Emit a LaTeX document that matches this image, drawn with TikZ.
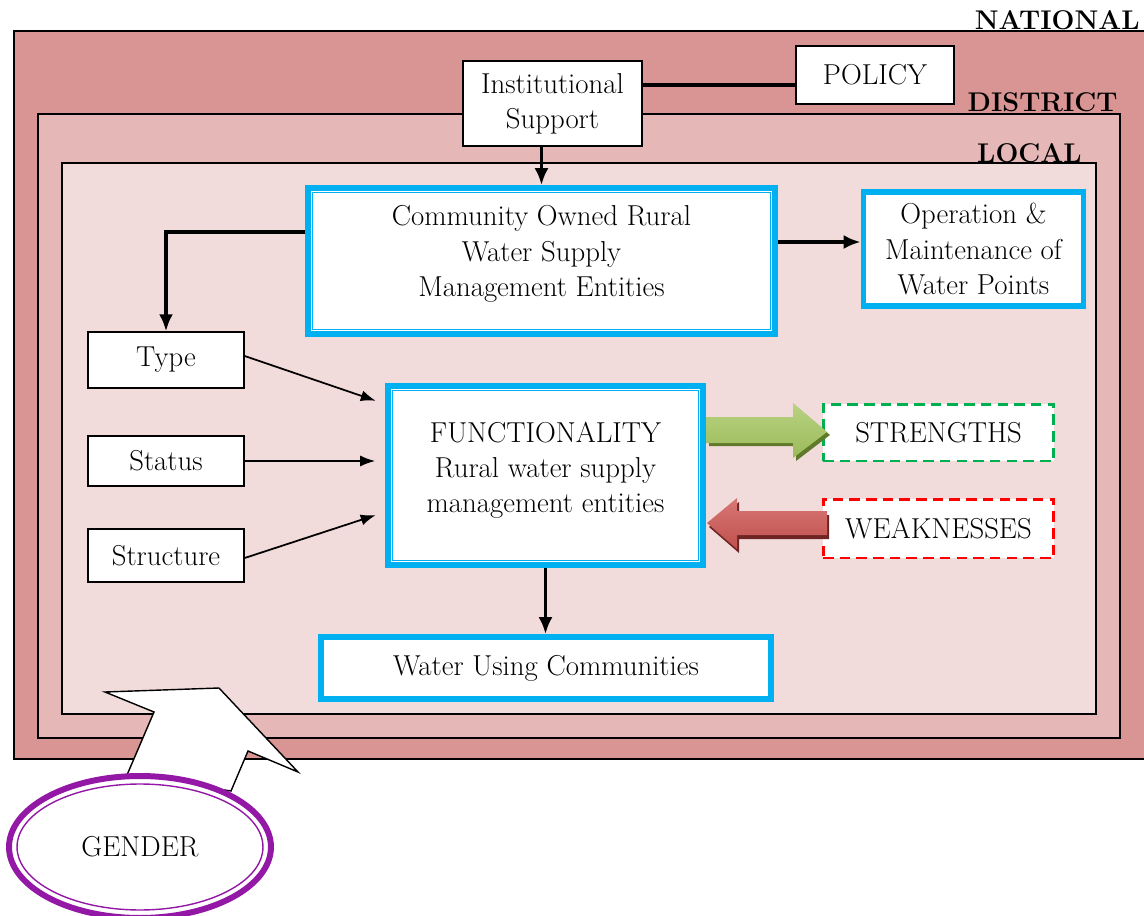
\documentclass[tikz,border=0pt]{standalone}
\usetikzlibrary{shapes.geometric,arrows.meta}

\definecolor{natred}{RGB}{217,149,148}
\definecolor{disred}{RGB}{229,184,183}
\definecolor{locred}{RGB}{242,220,219}
\definecolor{boxcyan}{RGB}{0,176,240}
\definecolor{strgreen}{RGB}{0,176,80}
\definecolor{gendpurple}{RGB}{148,24,166}
\definecolor{arrgreen}{RGB}{155,187,89}
\definecolor{arrgreenlt}{RGB}{185,210,130}
\definecolor{arrgreendk}{RGB}{94,122,42}
\definecolor{arrred}{RGB}{192,80,77}
\definecolor{arrredlt}{RGB}{215,120,117}
\definecolor{arrreddk}{RGB}{110,36,34}

\begin{document}
\begin{tikzpicture}[x=0.02cm,y=-0.02cm,
    txt/.style={font=\fontsize{16.4}{20}\selectfont, align=center},
    plainbox/.style={txt, draw=black, line width=0.8pt, fill=white, inner sep=0pt},
    bluebox/.style={txt, draw=boxcyan, line width=3.2pt, fill=white, inner sep=0pt},
    dashbox/.style={txt, dash pattern=on 6pt off 3.5pt, line width=1.7pt, fill=white, inner sep=0pt},
    level/.style={font=\fontsize{15.4}{18}\selectfont\bfseries, anchor=base east, inner sep=0pt},
    conn/.style={line width=2.2pt, -{Latex[length=0.34cm,width=0.28cm]}},
    feed/.style={line width=1pt, -{Latex[length=0.3cm,width=0.22cm]}, shorten >=0.2cm},
    inner/.style={boxcyan, line width=0.8pt}]
    \useasboundingbox (0,0) rectangle (1144,916);

    % niveles
    \fill[natred] (14,31) rectangle (1144,759);
    \draw[line width=0.8pt] (1144,31) -- (14,31) -- (14,759) -- (1144,759);
    \draw[line width=0.8pt, fill=disred] (38,114) rectangle (1120,738);
    \draw[line width=0.8pt, fill=locred] (62,163) rectangle (1096,714);
    \node[level] (nat) at (1140,30) {NATIONAL};
    \node[level] (dist) at (1118,112) {DISTRICT};
    \node[level] (loc) at (1082,162) {LOCAL};

    % flecha de genero
    \draw[line width=0.8pt, fill=white, line join=miter]
        (127,775) -- (154,712) -- (105,692) -- (219,688) -- (298,772) -- (248,751) -- (231,791) -- cycle;

    % cajas
    \node[plainbox, minimum width=3.58cm, minimum height=1.7cm] (inst) at (552.5,103.5) {Institutional\\Support};
    \node[plainbox, minimum width=3.16cm, minimum height=1.16cm] (pol) at (875,75) {POLICY};
    \node[bluebox, text depth=0.4cm, minimum width=9.34cm, minimum height=2.92cm] (comm) at (541.5,261) {Community Owned Rural\\Water Supply\\Management Entities};
    \node[bluebox, minimum width=4.4cm, minimum height=2.28cm] (op) at (973.5,249) {Operation \&\\Maintenance of\\Water Points};
    \node[plainbox, minimum width=3.12cm, minimum height=1.12cm] (type) at (166,360) {Type};
    \node[plainbox, minimum width=3.12cm, minimum height=1cm] (stat) at (166,461) {Status};
    \node[plainbox, minimum width=3.12cm, minimum height=1.06cm] (struc) at (166,555.5) {Structure};
    \node[bluebox, text depth=0.32cm, minimum width=6.3cm, minimum height=3.58cm] (func) at (545.5,475.5) {FUNCTIONALITY\\Rural water supply\\management entities};
    \node[bluebox, minimum width=9cm, minimum height=1.24cm] (wuc) at (546,668) {Water Using Communities};
    \node[dashbox, draw=strgreen, minimum width=4.62cm, minimum height=1.14cm] (str) at (938.5,432.5) {STRENGTHS};
    \node[dashbox, draw=red, minimum width=4.62cm, minimum height=1.18cm] (weak) at (938.5,528.5) {WEAKNESSES};

    % bordes dobles
    \draw[inner] ([xshift=0.15cm,yshift=-0.15cm]comm.north west) rectangle ([xshift=-0.15cm,yshift=0.15cm]comm.south east);
    \draw[inner] ([xshift=0.15cm,yshift=-0.15cm]func.north west) rectangle ([xshift=-0.15cm,yshift=0.15cm]func.south east);

    % conectores
    \coordinate (ip) at ([yshift=0.37cm]inst.east);
    \draw[line width=2.8pt] (ip) -- (ip -| pol.west);
    \draw[conn] (inst.south -| comm.north) -- (comm.north);
    \coordinate (ce) at ([yshift=0.38cm]comm.east);
    \draw[conn] (ce) -- (ce -| op.west);
    \coordinate (cw) at ([yshift=0.58cm]comm.west);
    \draw[conn] (cw) -| (type.north);
    \draw[feed] ([yshift=0.08cm]type.east) -- ([yshift=1.43cm]func.west);
    \draw[feed] (stat.east) -- (stat.east -| func.west);
    \draw[feed] ([yshift=-0.05cm]struc.east) -- ([yshift=-0.73cm]func.west);
    \draw[conn] (func.south) -- (func.south |- wuc.north);

    % flechas de bloque
    \fill[arrgreendk] (709,420) -- (796,420) -- (796,406) -- (830,435) -- (796,461) -- (796,446) -- (709,446) -- cycle;
    \shade[top color=arrgreenlt, bottom color=arrgreen]
        (706,417) -- (793,417) -- (793,403) -- (827,432) -- (793,458) -- (793,443) -- (706,443) -- cycle;
    \fill[arrreddk] (829,515) -- (739,515) -- (739,502) -- (709,527) -- (739,553) -- (739,539) -- (829,539) -- cycle;
    \shade[top color=arrredlt, bottom color=arrred]
        (827,511) -- (737,511) -- (737,498) -- (707,523) -- (737,549) -- (737,535) -- (827,535) -- cycle;

    % genero
    \node[txt, draw=gendpurple, line width=3.4pt, fill=white, ellipse, minimum width=5.24cm, minimum height=2.84cm] (gen) at (140,847) {GENDER};
    \draw[gendpurple, line width=0.8pt] (gen.center) ellipse (2.46cm and 1.26cm);
\end{tikzpicture}
\end{document}
